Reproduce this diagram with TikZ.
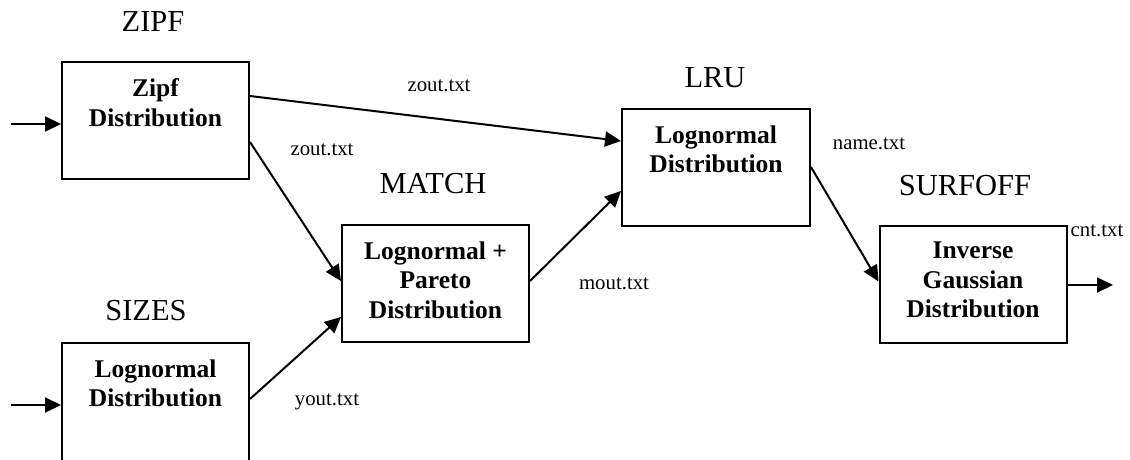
\documentclass[tikz,border=0pt]{standalone}
\usepackage{fontspec}
\setmainfont{Liberation Serif}
\usetikzlibrary{arrows.meta}
\tikzset{
  stage/.style={draw, line width=2pt, minimum width=187pt, minimum height=117pt, inner sep=0pt},
  stagetext/.style={anchor=north, inner sep=0pt, align=center, font=\fontsize{25.5}{29.5}\selectfont\bfseries},
  caption/.style={anchor=base, inner sep=0pt, font=\fontsize{30.5}{36}\selectfont},
  file/.style={anchor=base, inner sep=0pt, font=\fontsize{20.8}{24}\selectfont},
  flow/.style={line width=2pt, -{Triangle[length=16pt,width=15pt]}}
}
\begin{document}
\begin{tikzpicture}[x=1pt, y=-1pt]
\useasboundingbox (0,0) rectangle (1130,460);
\clip (0,0) rectangle (1130,460);

% processing stages
\node[stage] (zipf)  at (155.5,120.5) {};
\node[stage, minimum height=127pt] (sizes) at (155.5,406.5) {};
\node[stage] (match) at (435.5,283.5) {};
\node[stage, minimum width=188pt] (lru) at (716,167.5) {};
\node[stage] (surf)  at (973,284) {};

% stage contents
\node[stagetext] (zipf-t)  at ([yshift=-17.5pt]zipf.north)  {Zipf\\Distribution};
\node[stagetext] (sizes-t) at ([yshift=-17.5pt]sizes.north) {Lognormal\\Distribution};
\node[stagetext] (match-t) at ([yshift=-17.5pt]match.north) {Lognormal +\\Pareto\\Distribution};
\node[stagetext] (lru-t)   at ([yshift=-17.5pt]lru.north)   {Lognormal\\Distribution};
\node[stagetext] (surf-t)  at ([yshift=-17.5pt]surf.north)  {Inverse\\Gaussian\\Distribution};

% program names
\node[caption] (zipf-c)  at (153,32)  {ZIPF};
\node[caption] (sizes-c) at (146,320) {SIZES};
\node[caption] (match-c) at (433,193) {MATCH};
\node[caption] (lru-c)   at (715,88)  {LRU};
\node[caption] (surf-c)  at (965,195) {SURFOFF};

% file names
\node[file] (f-zout1) at (439,92)  {zout.txt};
\node[file] (f-zout2) at (322,155) {zout.txt};
\node[file] (f-yout)  at (327,405) {yout.txt};
\node[file] (f-mout)  at (614,289) {mout.txt};
\node[file] (f-name)  at (869,149) {name.txt};
\node[file] (f-cnt)   at (1097,236) {cnt.txt};

% free ends
\coordinate (in-zipf)  at (11,124);
\coordinate (in-sizes) at (11,405);
\coordinate (out-surf) at (1113,285);

% data flow
\draw[flow] (in-zipf) -- (in-zipf -| zipf.west);
\draw[flow] (in-sizes) -- (in-sizes -| sizes.west);
\draw[flow] ([yshift=-35pt]zipf.north east) -- ([yshift=-33pt]lru.north west);
\draw[flow] ([yshift=-81pt]zipf.north east) -- ([yshift=-57pt]match.north west);
\draw[flow] ([yshift=-57pt]sizes.north east) -- ([yshift=-93pt]match.north west);
\draw[flow] ([yshift=-57pt]match.north east) -- ([yshift=-83pt]lru.north west);
\draw[flow] ([yshift=-59pt]lru.north east) -- ([yshift=-57pt]surf.north west);
\draw[flow] (out-surf -| surf.east) -- (out-surf);
\end{tikzpicture}
\end{document}
